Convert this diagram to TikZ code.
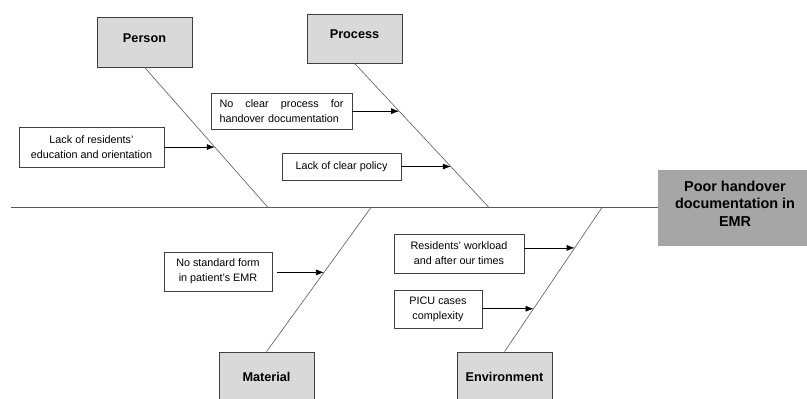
\documentclass[tikz,border=0pt]{standalone}
\usepackage{fontspec}
\setmainfont{Liberation Sans}
\usetikzlibrary{arrows.meta}
\definecolor{catgray}{HTML}{D9D9D9}
\definecolor{effgray}{HTML}{A6A6A6}
\definecolor{bonegray}{HTML}{595959}
\definecolor{edgegray}{HTML}{404040}
\tikzstyle{category} = [rectangle, draw=edgegray, line width=0.6pt, fill=catgray, minimum width=95pt, minimum height=50pt, font=\fontsize{12.7}{15}\selectfont\bfseries]
\tikzstyle{effect} = [rectangle, draw=effgray, fill=effgray, minimum width=154pt, minimum height=75pt, align=center, font=\fontsize{14.4}{17.5}\selectfont\bfseries]
\tikzstyle{cause} = [rectangle, draw=edgegray, line width=0.6pt, fill=white, align=center, inner sep=0pt, font=\fontsize{10.8}{15}\selectfont]
\tikzstyle{bone} = [draw=bonegray, line width=0.6pt]
\tikzstyle{spine} = [draw=bonegray, line width=0.8pt]
\tikzstyle{arrow} = [line width=0.6pt, -{Latex[length=8pt,width=6pt]}]
\begin{document}
\begin{tikzpicture}[x=1pt, y=-1pt]
  \clip (0,0) rectangle (807,399);
  \node (effect) [effect, text depth=8pt] at (735,207.5) {Poor handover\\documentation in\\EMR};
  \node (person) [category, text depth=8pt] at (144.5,42) {Person};
  \node (process) [category, text depth=8pt, minimum height=49pt] at (354.5,38.5) {Process};
  \node (material) [category] at (266.5,377) {Material};
  \node (environment) [category] at (504.5,377) {Environment};
  \coordinate (tail) at (11,207.5);
  \coordinate (pj) at (268,207.5);
  \coordinate (qj) at (489,207.5);
  \coordinate (mj) at (371,207.5);
  \coordinate (ej) at (602,207.5);
  \draw [spine] (tail) -- (effect);
  \draw [bone] (person.south) -- coordinate[pos=0.569] (pa1) (pj);
  \draw [bone] (process.south) -- coordinate[pos=0.332] (qa1) coordinate[pos=0.716] (qa2) (qj);
  \draw [bone] (mj) -- coordinate[pos=0.45] (ma1) (material.north);
  \draw [bone] (ej) -- coordinate[pos=0.28] (ea1) coordinate[pos=0.702] (ea2) (environment.north);
  \node (educ) [cause, minimum width=145pt, minimum height=40pt] at (91.5,147) {Lack of residents'\\education and orientation};
  \node (noproc) [cause, minimum width=141pt, minimum height=36pt, text width=124pt, align=left] at (281.5,111) {No\hfill clear\hfill process\hfill for\\handover documentation};
  \node (policy) [cause, minimum width=119pt, minimum height=27pt] at (341.5,166.5) {Lack of clear policy};
  \node (form) [cause, minimum width=108pt, minimum height=39pt] at (218,271.5) {No standard form\\in patient's EMR};
  \node (workload) [cause, minimum width=130pt, minimum height=39pt] at (459,253.5) {Residents' workload\\and after our times};
  \node (picu) [cause, minimum width=88pt, minimum height=38pt] at (438,309) {PICU cases\\complexity};
  \draw [arrow] (educ.east |- pa1) -- (pa1);
  \draw [arrow] (noproc.east |- qa1) -- (qa1);
  \draw [arrow] (policy.east |- qa2) -- (qa2);
  \draw [arrow, shorten <=5pt] (form.east |- ma1) -- (ma1);
  \draw [arrow] (workload.east |- ea1) -- (ea1);
  \draw [arrow] (picu.east |- ea2) -- (ea2);
\end{tikzpicture}
\end{document}
